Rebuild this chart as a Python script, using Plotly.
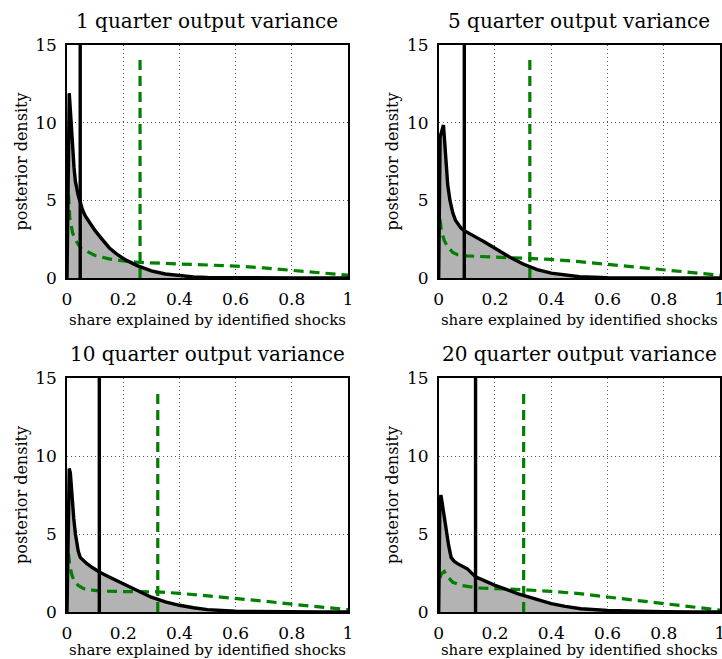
import plotly.graph_objects as go

FONT = "DejaVu Serif"
GREEN = "rgb(0,128,0)"
GRAY_FILL = "rgb(179,179,179)"

titles = ["1 quarter output variance", "5 quarter output variance",
          "10 quarter output variance", "20 quarter output variance"]
x_tick_vals = [0, 0.2, 0.4, 0.6, 0.8, 1]
x_tick_text = ["0", "0.2", "0.4", "0.6", "0.8", "1"]
y_tick_vals = [0, 5, 10, 15]
y_tick_text = ["0", "5", "10", "15"]
x_label = "share explained by identified shocks"
y_label = "posterior density"

# posterior densities
post1_x = [0, 0.003, 0.008, 0.012, 0.016, 0.02, 0.025, 0.03, 0.035, 0.04, 0.047, 0.055, 0.065, 0.08, 0.1,
           0.12, 0.15, 0.18, 0.21, 0.25, 0.3, 0.35, 0.4, 0.45, 0.5, 0.6, 0.7, 0.8, 0.9, 1.0]
post1_y = [0, 6.0, 11.9, 10.8, 9.4, 8.3, 7.1, 6.2, 5.7, 5.3, 4.9, 4.4, 4.0, 3.55, 3.05,
           2.6, 1.95, 1.5, 1.15, 0.8, 0.46, 0.26, 0.14, 0.07, 0.035, 0.01, 0.003, 0, 0, 0]

post2_x = [0, 0.005, 0.01, 0.017, 0.025, 0.032, 0.04, 0.05, 0.06, 0.07, 0.08, 0.091, 0.1, 0.12, 0.14,
           0.16, 0.2, 0.25, 0.3, 0.35, 0.4, 0.45, 0.5, 0.6, 0.7, 0.8, 1.0]
post2_y = [0, 9.1, 9.4, 9.85, 7.8, 6.0, 5.0, 4.2, 3.7, 3.4, 3.2, 3.05, 2.95, 2.75, 2.55,
           2.35, 1.9, 1.37, 0.9, 0.54, 0.31, 0.17, 0.08, 0.02, 0.005, 0, 0]

post3_x = [0, 0.004, 0.008, 0.012, 0.016, 0.024, 0.03, 0.04, 0.047, 0.06, 0.071, 0.09, 0.115, 0.15,
           0.2, 0.25, 0.3, 0.35, 0.4, 0.45, 0.5, 0.6, 0.7, 0.8, 0.9, 1.0]
post3_y = [0, 6.5, 9.2, 8.9, 7.6, 6.0, 5.0, 3.9, 3.5, 3.25, 3.1, 2.85, 2.57, 2.25,
           1.82, 1.38, 0.95, 0.65, 0.43, 0.27, 0.15, 0.05, 0.02, 0.005, 0, 0]

post4_x = [0, 0.004, 0.008, 0.012, 0.018, 0.026, 0.035, 0.044, 0.055, 0.067, 0.085, 0.103, 0.131,
           0.16, 0.2, 0.24, 0.28, 0.34, 0.4, 0.45, 0.505, 0.6, 0.7, 0.8, 0.9, 1.0]
post4_y = [0, 6.8, 7.5, 7.0, 6.2, 5.2, 4.3, 3.5, 3.25, 3.1, 2.95, 2.75, 2.25,
           2.0, 1.71, 1.45, 1.18, 0.85, 0.54, 0.36, 0.21, 0.1, 0.04, 0.015, 0.005, 0]

# prior densities
prior1_x = [0.005, 0.01, 0.02, 0.03, 0.05, 0.08, 0.1, 0.15, 0.2, 0.26, 0.3, 0.4, 0.5, 0.6, 0.7, 0.8, 0.9, 0.95, 1.0]
prior1_y = [5.4, 3.9, 2.9, 2.45, 1.9, 1.6, 1.45, 1.23, 1.1, 1.0, 0.97, 0.92, 0.86, 0.77, 0.65, 0.5, 0.35, 0.27, 0.18]

prior2_x = [0.005, 0.01, 0.02, 0.032, 0.05, 0.067, 0.1, 0.2, 0.324, 0.4, 0.5, 0.6, 0.7, 0.8, 0.9, 1.0]
prior2_y = [3.75, 3.0, 2.4, 2.0, 1.65, 1.5, 1.42, 1.35, 1.29, 1.2, 1.05, 0.88, 0.72, 0.55, 0.37, 0.18]

prior3_x = [0.005, 0.01, 0.017, 0.024, 0.04, 0.06, 0.09, 0.12, 0.2, 0.323, 0.4, 0.5, 0.6, 0.7, 0.8, 0.9, 1.0]
prior3_y = [3.75, 3.0, 2.4, 2.05, 1.7, 1.5, 1.4, 1.34, 1.31, 1.29, 1.2, 1.05, 0.87, 0.7, 0.5, 0.33, 0.15]

prior4_x = [0.005, 0.01, 0.02, 0.03, 0.05, 0.08, 0.138, 0.2, 0.302, 0.4, 0.5, 0.6, 0.7, 0.8, 0.9, 1.0]
prior4_y = [2.2, 2.45, 2.6, 2.3, 1.9, 1.7, 1.54, 1.5, 1.43, 1.32, 1.18, 0.96, 0.76, 0.54, 0.32, 0.12]

post_median = [0.047, 0.091, 0.115, 0.131]
prior_median = [0.26, 0.324, 0.323, 0.302]
prior_median_top = 14.25
y_max = 15

posts = [(post1_x, post1_y), (post2_x, post2_y), (post3_x, post3_y), (post4_x, post4_y)]
priors = [(prior1_x, prior1_y), (prior2_x, prior2_y), (prior3_x, prior3_y), (prior4_x, prior4_y)]

W, H = 722, 659
x_dom = [[67 / W, 348 / W], [438.7 / W, 720 / W]]
y_dom = [[1 - 278 / H, 1 - 45 / H], [1 - 612 / H, 1 - 378 / H]]

fig = go.Figure()
for i in range(4):
    r, c = divmod(i, 2)
    n = "" if i == 0 else str(i + 1)
    xa, ya = "x" + n, "y" + n
    px, py = posts[i]
    qx, qy = priors[i]
    fig.add_trace(go.Scatter(x=px, y=py, xaxis=xa, yaxis=ya, mode="lines", line=dict(width=0),
                             fill="tozeroy", fillcolor=GRAY_FILL, showlegend=False, hoverinfo="skip"))
    fig.add_trace(go.Scatter(x=qx, y=qy, xaxis=xa, yaxis=ya, mode="lines",
                             line=dict(color=GREEN, width=3.2, dash="10px,6px"), showlegend=False))
    fig.add_trace(go.Scatter(x=[prior_median[i], prior_median[i]], y=[0, prior_median_top], xaxis=xa, yaxis=ya,
                             mode="lines", line=dict(color=GREEN, width=3.2, dash="10px,6px"), showlegend=False))
    fig.add_trace(go.Scatter(x=px, y=py, xaxis=xa, yaxis=ya, mode="lines",
                             line=dict(color="black", width=3.4), showlegend=False))
    fig.add_trace(go.Scatter(x=[post_median[i], post_median[i]], y=[0, y_max], xaxis=xa, yaxis=ya,
                             mode="lines", line=dict(color="black", width=3.4), showlegend=False))

    common = dict(showline=True, mirror=True, linecolor="black", linewidth=1.5, zeroline=False,
                  showgrid=True, gridcolor="#555555", gridwidth=1, griddash="1px,3px",
                  ticks="outside", ticklen=5, tickcolor="rgba(0,0,0,0)", automargin=False,
                  ticklabeloverflow="allow",
                  tickfont=dict(family=FONT, size=17, color="black"))
    fig.layout["xaxis" + n] = dict(domain=x_dom[c], anchor=ya, range=[0, 1], tickvals=x_tick_vals,
                                   ticktext=x_tick_text,
                                   title=dict(text=x_label, font=dict(family=FONT, size=15, color="black"),
                                              standoff=[6, 8][r]), **common)
    fig.layout["yaxis" + n] = dict(domain=y_dom[r], anchor=xa, range=[0, y_max], tickvals=y_tick_vals,
                                   ticktext=y_tick_text,
                                   title=dict(text=y_label, font=dict(family=FONT, size=16, color="black"),
                                              standoff=4), **common)
    xc = (x_dom[c][0] + x_dom[c][1]) / 2
    ty = [1 - 21 / H, 1 - 354 / H][r]
    fig.add_annotation(x=xc, y=ty, xref="paper", yref="paper", text=titles[i], showarrow=False,
                       xanchor="center", yanchor="middle", font=dict(family=FONT, size=20, color="black"))

fig.update_layout(template="none", width=W, height=H, margin=dict(l=0, r=0, t=0, b=0),
                  paper_bgcolor="white", plot_bgcolor="white", showlegend=False,
                  font=dict(family=FONT, color="black"))
fig.write_html("out.html", config={"displayModeBar": False},
               post_script="document.body.style.margin='0';document.body.style.overflow='hidden';")
